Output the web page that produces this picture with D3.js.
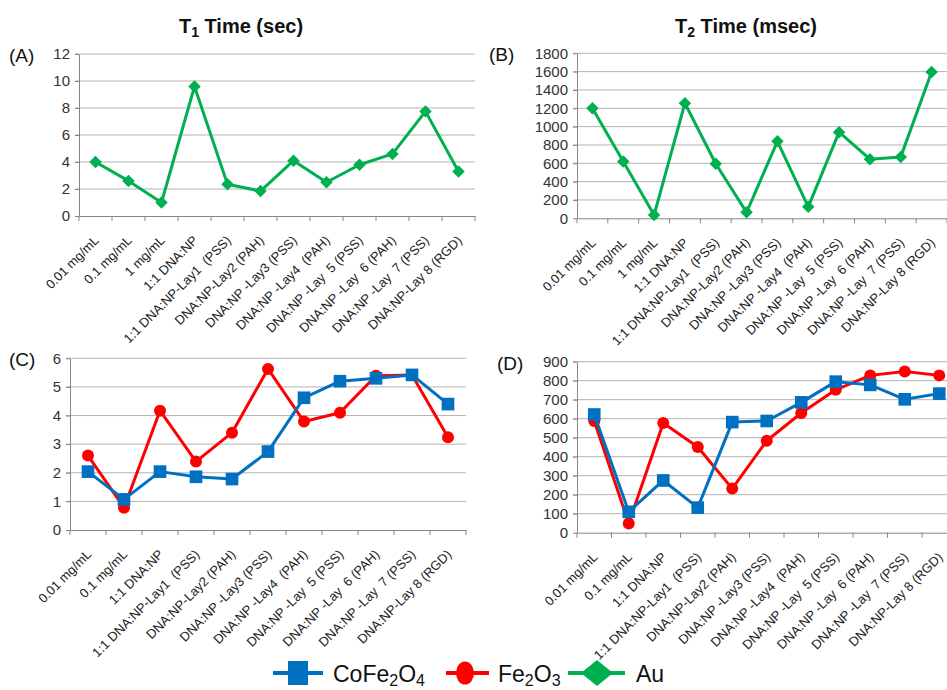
<!DOCTYPE html>
<html>
<head>
<meta charset="utf-8">
<script src="https://cdnjs.cloudflare.com/ajax/libs/d3/7.8.5/d3.min.js"></script>
<style>
  body { margin: 0; background: #fff; }
  svg { display: block; font-family: "Liberation Sans", Arial, sans-serif; }
</style>
</head>
<body>
<svg id="chart" width="947" height="690"></svg>
<script>
// categories
var catsAB = ["0.01 mg/mL", "0.1 mg/mL", "1 mg/mL", "1:1 DNA:NP", "1:1 DNA:NP-Lay1  (PSS)",
  "DNA:NP-Lay2 (PAH)", "DNA:NP -Lay3 (PSS)", "DNA:NP -Lay4  (PAH)", "DNA:NP -Lay  5 (PSS)",
  "DNA:NP -Lay  6 (PAH)", "DNA:NP -Lay  7 (PSS)", "DNA:NP-Lay 8 (RGD)"];
var catsCD = ["0.01 mg/mL", "0.1 mg/mL", "1:1 DNA:NP", "1:1 DNA:NP-Lay1  (PSS)",
  "DNA:NP-Lay2 (PAH)", "DNA:NP -Lay3 (PSS)", "DNA:NP -Lay4  (PAH)", "DNA:NP -Lay  5 (PSS)",
  "DNA:NP -Lay  6 (PAH)", "DNA:NP -Lay  7 (PSS)", "DNA:NP-Lay 8 (RGD)"];

// series values
var t1Au   = [4.0, 2.6, 1.0, 9.6, 2.35, 1.85, 4.1, 2.5, 3.8, 4.6, 7.75, 3.3];
var t2Au   = [1200, 620, 35, 1255, 595, 65, 840, 125, 940, 645, 670, 1595];
var t1CoFe = [2.04, 1.07, 2.04, 1.86, 1.78, 2.74, 4.62, 5.2, 5.3, 5.42, 4.4];
var t1Fe   = [2.6, 0.78, 4.17, 2.39, 3.4, 5.63, 3.79, 4.1, 5.39, 5.42, 3.24];
var t2CoFe = [622, 110, 275, 132, 582, 588, 686, 795, 778, 702, 732];
var t2Fe   = [588, 49, 577, 451, 232, 484, 630, 752, 828, 848, 828];

var blue = "#0070C0", red = "#FF0000", green = "#00B050";
var font = "Liberation Sans, Arial, sans-serif";
var svg = d3.select("#chart");
svg.append("rect").attr("width", 947).attr("height", 690).attr("fill", "#fff");

function marker(g, kind, color, pts) {
  if (kind === "circle") {
    g.selectAll(null).data(pts).enter().append("circle")
      .attr("cx", function(d) { return d[0]; })
      .attr("cy", function(d) { return d[1]; })
      .attr("r", 6).attr("fill", color);
  } else {
    var size = kind === "square" ? 160 : 78;
    var rot = kind === "diamond" ? 45 : 0;
    g.selectAll(null).data(pts).enter().append("path")
      .attr("d", d3.symbol().type(d3.symbolSquare).size(size)())
      .attr("transform", function(d) { return "translate(" + d[0] + "," + d[1] + ") rotate(" + rot + ")"; })
      .attr("fill", color);
  }
}

function drawPanel(p) {
  var g = svg.append("g");
  var x = d3.scaleBand().domain(p.cats).range([p.left, p.right]);
  var y = d3.scaleLinear().domain([0, p.max]).range([p.bottom, p.top]);
  var ticks = d3.range(0, p.max + p.step / 2, p.step);

  // gridlines
  g.append("g").selectAll("line").data(ticks.slice(1)).enter().append("line")
    .attr("x1", p.left - 4).attr("x2", p.right)
    .attr("y1", function(d) { return y(d); }).attr("y2", function(d) { return y(d); })
    .attr("stroke", "#b3b3b3").attr("stroke-width", 1);

  // y axis
  var ya = g.append("g").attr("transform", "translate(" + p.left + ",0)")
    .call(d3.axisLeft(y).tickValues(ticks).tickFormat(d3.format("d"))
      .tickSize(4).tickPadding(5).tickSizeOuter(0));
  ya.attr("font-family", font);
  ya.select(".domain").attr("stroke", "#868686");
  ya.selectAll(".tick line").attr("stroke", "#868686");
  ya.selectAll("text").attr("font-size", 15).attr("fill", "#333");

  // x axis
  var xa = g.append("g").attr("transform", "translate(0," + p.bottom + ")")
    .call(d3.axisBottom(x).tickSize(0).tickSizeOuter(0));
  xa.attr("font-family", font);
  xa.select(".domain").attr("stroke", "#868686");
  xa.selectAll("text")
    .style("white-space", "pre")
    .attr("font-size", 13).attr("fill", "#222")
    .attr("text-anchor", "end").attr("x", 0).attr("y", 0).attr("dy", "0.35em")
    .attr("transform", "translate(1,22) rotate(-45)");
  var bounds = p.cats.map(function(c) { return x(c); }).concat([x.range()[1]]);
  g.append("g").selectAll("line").data(bounds).enter().append("line")
    .attr("x1", function(d) { return d; }).attr("x2", function(d) { return d; })
    .attr("y1", p.bottom).attr("y2", p.bottom + 5)
    .attr("stroke", "#868686");

  // series
  var cx = function(i) { return x(p.cats[i]) + x.bandwidth() / 2; };
  p.series.forEach(function(s) {
    var pts = s.values.map(function(v, i) { return [cx(i), y(v)]; });
    g.append("path").datum(pts)
      .attr("d", d3.line())
      .attr("fill", "none").attr("stroke", s.color).attr("stroke-width", 3)
      .attr("stroke-linejoin", "round");
    marker(g, s.kind, s.color, pts);
  });

  // panel label
  g.append("text").attr("x", p.labelX).attr("y", p.top + 8)
    .attr("font-size", 19).attr("fill", "#111").text(p.label);
}

drawPanel({ cats: catsAB, left: 79, right: 475, top: 54, bottom: 216, max: 12, step: 2,
  label: "(A)", labelX: 9, series: [{ values: t1Au, color: green, kind: "diamond" }] });
drawPanel({ cats: catsAB, left: 577, right: 947, top: 53.3, bottom: 218.3, max: 1800, step: 200,
  label: "(B)", labelX: 489, series: [{ values: t2Au, color: green, kind: "diamond" }] });
drawPanel({ cats: catsCD, left: 70, right: 466, top: 358.3, bottom: 530, max: 6, step: 1,
  label: "(C)", labelX: 9, series: [{ values: t1Fe, color: red, kind: "circle" },
                                    { values: t1CoFe, color: blue, kind: "square" }] });
drawPanel({ cats: catsCD, left: 577, right: 956.5, top: 361.7, bottom: 532.7, max: 900, step: 100,
  label: "(D)", labelX: 497, series: [{ values: t2Fe, color: red, kind: "circle" },
                                      { values: t2CoFe, color: blue, kind: "square" }] });

// titles
function title(cx, sub, rest) {
  var t = svg.append("text").attr("x", cx).attr("y", 33).attr("text-anchor", "middle")
    .attr("font-size", 20).attr("font-weight", "bold").attr("fill", "#111");
  t.append("tspan").text("T");
  t.append("tspan").attr("font-size", 14).attr("dy", 4).text(sub);
  t.append("tspan").attr("dy", -4).text(rest);
}
title(241, "1", " Time (sec)");
title(746, "2", " Time (msec)");

// legend
var legend = [
  { x1: 273, x2: 323, mx: 298, tx: 333, color: blue, kind: "square", parts: [["CoFe", 0], ["2", 1], ["O", 0], ["4", 1]] },
  { x1: 446, x2: 489, mx: 465, tx: 498, color: red, kind: "circle", parts: [["Fe", 0], ["2", 1], ["O", 0], ["3", 1]] },
  { x1: 568, x2: 625, mx: 597, tx: 636, color: green, kind: "diamond", parts: [["Au", 0]] }
];
var ly = 673;
legend.forEach(function(l) {
  var g = svg.append("g");
  g.append("line").attr("x1", l.x1).attr("x2", l.x2).attr("y1", ly).attr("y2", ly)
    .attr("stroke", l.color).attr("stroke-width", 4);
  if (l.kind === "square") {
    g.append("rect").attr("x", l.mx - 10).attr("y", ly - 12).attr("width", 20).attr("height", 24).attr("fill", l.color);
  } else if (l.kind === "circle") {
    g.append("ellipse").attr("cx", l.mx).attr("cy", ly).attr("rx", 9).attr("ry", 11.5).attr("fill", l.color);
  } else {
    g.append("path").attr("d", "M" + l.mx + "," + (ly - 13) + " L" + (l.mx + 16) + "," + ly +
      " L" + l.mx + "," + (ly + 13) + " L" + (l.mx - 16) + "," + ly + " Z").attr("fill", l.color);
  }
  var t = g.append("text").attr("x", l.tx).attr("y", ly + 9).attr("font-size", 23).attr("fill", "#111");
  var prev = 0;
  l.parts.forEach(function(pt) {
    var sp = t.append("tspan").text(pt[0]);
    if (pt[1]) sp.attr("font-size", 16);
    var shift = pt[1] ? 4 : 0;
    sp.attr("dy", shift - prev);
    prev = shift;
  });
});
</script>
</body>
</html>
